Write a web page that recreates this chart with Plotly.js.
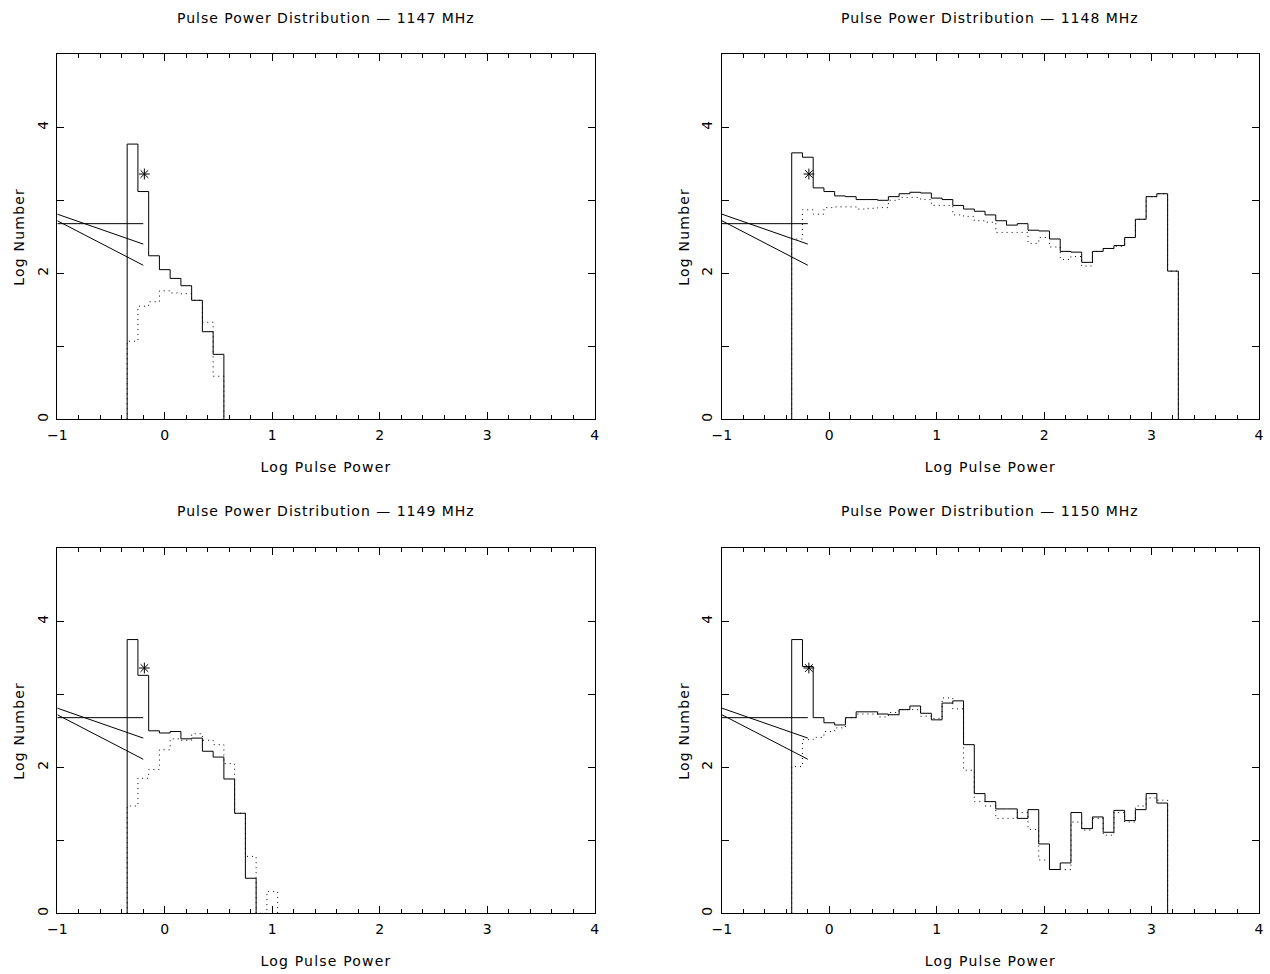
<!DOCTYPE html>
<html>
<head>
<meta charset="utf-8">
<script src="https://cdn.plot.ly/plotly-3.0.1.min.js"></script>
<style>
html,body{margin:0;padding:0;background:#fff;}
#chart{width:1270px;height:974px;}
text[class$="title"] { letter-spacing: 1.2px; }
.annotation-text { letter-spacing: 1.0px; }
</style>
</head>
<body>
<div id="chart"></div>
<script>
// ---- Data ----
const panelTitles = [
  'Pulse Power Distribution \u2014 1147 MHz',
  'Pulse Power Distribution \u2014 1148 MHz',
  'Pulse Power Distribution \u2014 1149 MHz',
  'Pulse Power Distribution \u2014 1150 MHz'
];
const binStart = -0.35;
const binWidth = 0.1;

const solid1147 = [3.77, 3.12, 2.24, 2.05, 1.93, 1.83, 1.63, 1.20, 0.89];
const dotted1147 = [1.07, 1.55, 1.61, 1.76, 1.73, 1.72, 1.63, 1.33, 0.59];

const solid1148 = [3.65, 3.59, 3.17, 3.12, 3.06, 3.05, 3.01, 3.01, 3.00, 3.05,
                   3.09, 3.11, 3.10, 3.03, 3.01, 2.93, 2.88, 2.85, 2.80, 2.72,
                   2.66, 2.68, 2.59, 2.58, 2.47, 2.30, 2.29, 2.15, 2.30, 2.34,
                   2.38, 2.49, 2.74, 3.05, 3.09, 2.03];
const dotted1148 = [2.47, 2.87, 2.81, 2.90, 2.91, 2.91, 2.88, 2.89, 2.90, 3.00,
                    3.04, 3.04, 3.01, 2.93, 2.93, 2.80, 2.78, 2.72, 2.70, 2.56,
                    2.56, 2.56, 2.41, 2.49, 2.36, 2.19, 2.23, 2.10, 2.30, 2.34,
                    2.37, 2.49, 2.74, 3.05, 3.09, 2.03];

const solid1149 = [3.75, 3.26, 2.50, 2.47, 2.49, 2.39, 2.40, 2.22, 2.14, 1.84, 1.37, 0.48];
const dotted1149 = [1.47, 1.85, 1.97, 2.24, 2.39, 2.37, 2.46, 2.37, 2.31, 2.05, 1.37, 0.78, 0.0, 0.30];

const solid1150 = [3.75, 3.38, 2.68, 2.61, 2.58, 2.68, 2.76, 2.76, 2.73, 2.72,
                   2.79, 2.84, 2.74, 2.65, 2.88, 2.91, 2.31, 1.64, 1.53, 1.43,
                   1.43, 1.30, 1.42, 0.95, 0.60, 0.69, 1.38, 1.16, 1.32, 1.11,
                   1.41, 1.27, 1.42, 1.64, 1.51];
const dotted1150 = [2.01, 2.38, 2.41, 2.49, 2.54, 2.68, 2.73, 2.73, 2.69, 2.75,
                    2.79, 2.79, 2.70, 2.67, 2.95, 2.80, 1.96, 1.53, 1.47, 1.30,
                    1.30, 1.38, 1.15, 0.73, 0.60, 0.60, 1.25, 1.14, 1.30, 1.07,
                    1.38, 1.25, 1.47, 1.58, 1.55];

// reference lines (same in every panel)
const refLineX = [-1, -0.2];
const refFlatY = [2.68, 2.68];
const refSlopeAY = [2.81, 2.40];
const refSlopeBY = [2.72, 2.11];
const starX = [-0.19];
const starY = [3.36];

const xTickVals = [-1, 0, 1, 2, 3, 4];
const yTickVals = [0, 1, 2, 3, 4];
const yTickText = ['0', '', '2', '', '4'];

// ---- Build ----
const FONT = 'DejaVu Sans, Liberation Sans, sans-serif';
function stepTrace(vals, xa, ya, dash) {
  const x = [binStart], y = [0];
  for (let i = 0; i < vals.length; i++) { x.push(binStart + i * binWidth); y.push(vals[i]); }
  x.push(binStart + vals.length * binWidth); y.push(0);
  return {x: x, y: y, xaxis: xa, yaxis: ya, mode: 'lines', type: 'scatter',
          line: {shape: 'hv', color: 'black', width: 1, dash: dash}, hoverinfo: 'skip'};
}
function lineTrace(x, y, xa, ya) {
  return {x: x, y: y, xaxis: xa, yaxis: ya, mode: 'lines', type: 'scatter',
          line: {color: 'black', width: 1}, hoverinfo: 'skip'};
}
const panels = [
  [solid1147, dotted1147], [solid1148, dotted1148],
  [solid1149, dotted1149], [solid1150, dotted1150]
];
const traces = [];
panels.forEach((p, i) => {
  const xa = 'x' + (i === 0 ? '' : i + 1), ya = 'y' + (i === 0 ? '' : i + 1);
  traces.push(stepTrace(p[1], xa, ya, '1px,4px'));
  traces.push(stepTrace(p[0], xa, ya, 'solid'));
  traces.push(lineTrace(refLineX, refFlatY, xa, ya));
  traces.push(lineTrace(refLineX, refSlopeAY, xa, ya));
  traces.push(lineTrace(refLineX, refSlopeBY, xa, ya));
  traces.push({x: starX, y: starY, xaxis: xa, yaxis: ya, mode: 'markers', type: 'scatter',
               marker: {symbol: 'asterisk-open', size: 9, color: 'black', line: {color: 'black', width: 1}},
               hoverinfo: 'skip'});
});

const W = 1270, H = 974;
const xDomains = [[57.3 / W, 594.7 / W], [721.9 / W, 1258.9 / W]];
const yDomains = [[1 - 419.3 / H, 1 - 54.3 / H], [1 - 913.3 / H, 1 - 548.3 / H]];

function xAxis(dom, anchor) {
  return {domain: dom, anchor: anchor, range: [-1, 4], showgrid: false, zeroline: false,
          showline: true, linecolor: 'black', linewidth: 1, mirror: 'ticks',
          ticks: 'inside', ticklen: 7, tickwidth: 1, tickcolor: 'black',
          tickmode: 'array', tickvals: xTickVals, ticklabelstandoff: 3,
          minor: {tick0: -1, dtick: 0.2, ticks: 'inside', ticklen: 4, tickwidth: 1, tickcolor: 'black'},
          tickfont: {family: FONT, size: 14, color: 'black'},
          title: {text: 'Log Pulse Power', font: {family: FONT, size: 14, color: 'black'}, standoff: 20},
          fixedrange: true};
}
function yAxis(dom, anchor) {
  return {domain: dom, anchor: anchor, range: [0, 5], showgrid: false, zeroline: false,
          showline: true, linecolor: 'black', linewidth: 1, mirror: 'ticks',
          ticks: 'inside', ticklen: 7, tickwidth: 1, tickcolor: 'black',
          tickmode: 'array', tickvals: yTickVals, ticktext: yTickText, tickangle: -90,
          ticklabelstandoff: 3,
          tickfont: {family: FONT, size: 14, color: 'black'},
          title: {text: 'Log Number', font: {family: FONT, size: 14, color: 'black'}, standoff: 6},
          fixedrange: true};
}

const layout = {
  width: W, height: H, margin: {l: 0, r: 0, t: 0, b: 0},
  paper_bgcolor: 'white', plot_bgcolor: 'white', showlegend: false,
  xaxis: xAxis(xDomains[0], 'y'), yaxis: yAxis(yDomains[0], 'x'),
  xaxis2: xAxis(xDomains[1], 'y2'), yaxis2: yAxis(yDomains[0], 'x2'),
  xaxis3: xAxis(xDomains[0], 'y3'), yaxis3: yAxis(yDomains[1], 'x3'),
  xaxis4: xAxis(xDomains[1], 'y4'), yaxis4: yAxis(yDomains[1], 'x4'),
  annotations: panelTitles.map((t, i) => ({
    text: t, showarrow: false, xref: 'paper', yref: 'paper',
    x: (xDomains[i % 2][0] + xDomains[i % 2][1]) / 2,
    y: i < 2 ? 1 - 18 / H : 1 - 511 / H,
    xanchor: 'center', yanchor: 'middle',
    font: {family: FONT, size: 14, color: 'black'}
  }))
};
Plotly.newPlot('chart', traces, layout, {displayModeBar: false, staticPlot: true});
</script>
</body>
</html>
